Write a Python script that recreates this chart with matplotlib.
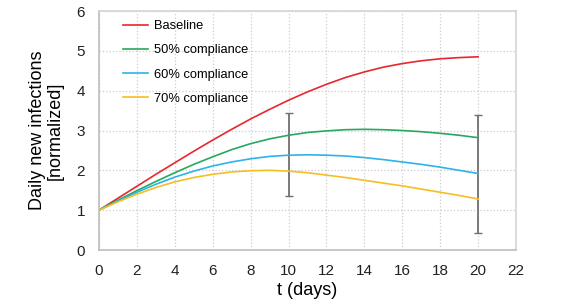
import matplotlib
matplotlib.use("Agg")
import matplotlib.pyplot as plt

plt.rcParams['font.family'] = ['Liberation Sans', 'DejaVu Sans']

# days and normalized daily new infections
days = list(range(0, 21))
baseline = [1.0, 1.3, 1.6, 1.9, 2.19, 2.48, 2.76, 3.03, 3.29, 3.53, 3.76,
            3.97, 4.16, 4.33, 4.47, 4.59, 4.68, 4.75, 4.8, 4.83, 4.85]
comp50 = [1.0, 1.25, 1.49, 1.72, 1.94, 2.15, 2.34, 2.52, 2.67, 2.79, 2.88,
          2.95, 2.99, 3.02, 3.03, 3.02, 3.0, 2.97, 2.93, 2.88, 2.82]
comp60 = [1.0, 1.23, 1.45, 1.65, 1.83, 1.98, 2.11, 2.21, 2.29, 2.35, 2.38,
          2.39, 2.38, 2.36, 2.32, 2.27, 2.21, 2.15, 2.08, 2.0, 1.92]
comp70 = [1.0, 1.21, 1.4, 1.57, 1.71, 1.82, 1.9, 1.96, 1.99, 2.0, 1.98,
          1.94, 1.88, 1.82, 1.75, 1.68, 1.61, 1.53, 1.45, 1.37, 1.28]

# error bar ranges
err_days = [10, 20]
err_low = [1.36, 0.43]
err_high = [3.43, 3.39]

series = [
    ("Baseline", baseline, "#e8262e"),
    ("50% compliance", comp50, "#27a85e"),
    ("60% compliance", comp60, "#2db3ea"),
    ("70% compliance", comp70, "#f5be22"),
]

fig = plt.figure(figsize=(5.62, 3.06), dpi=100)
ax = fig.add_axes([99 / 562, 56 / 306, 417 / 562, 239 / 306])

for label, vals, color in series:
    ax.plot(days, vals, color=color, lw=1.2, label=label)

mid = [(lo + hi) / 2 for lo, hi in zip(err_low, err_high)]
half = [(hi - lo) / 2 for lo, hi in zip(err_low, err_high)]
ax.errorbar(err_days, mid, yerr=half, fmt='none', ecolor='#707070',
            elinewidth=1.3, capsize=3, capthick=1.0, zorder=1)

ax.set_xlim(0, 22)
ax.set_ylim(0, 6)
ax.set_xticks(range(0, 23, 2))
ax.set_yticks(range(0, 7))
ax.grid(True, color='#cccccc', linestyle=':', linewidth=0.9)
ax.set_axisbelow(True)

for side in ['top', 'right']:
    ax.spines[side].set_color('#d4d4d4')
for side in ['left', 'bottom']:
    ax.spines[side].set_color('#bdbdbd')
for sp in ax.spines.values():
    sp.set_linewidth(1.2)

ax.tick_params(axis='both', length=0, labelsize=11, colors='#222222')
ax.tick_params(axis='x', pad=10)
ax.tick_params(axis='y', pad=10)

ax.set_xlabel('t (days)', fontsize=13, labelpad=3)
ax.set_ylabel('Daily new infections\n[normalized]', fontsize=13,
              labelpad=9, linespacing=1.1)

ax.legend(loc='upper left', frameon=False, fontsize=9.3, handlelength=2.0,
          handletextpad=0.4, labelspacing=0.95, borderaxespad=0.3,
          bbox_to_anchor=(0.035, 1.0))

fig.savefig('out.png', dpi=100)
